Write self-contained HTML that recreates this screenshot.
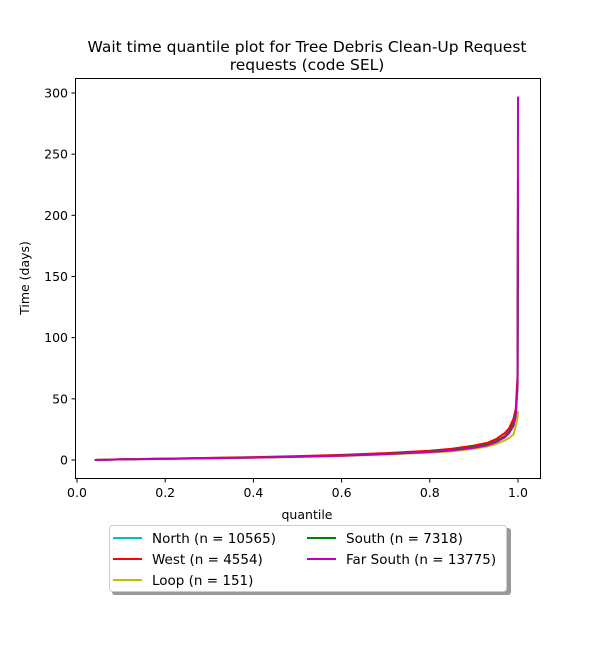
<!DOCTYPE html>
<html><head><meta charset="utf-8"><style>
body{margin:0;background:#fff;font-family:"Liberation Sans","DejaVu Sans",sans-serif}
</style></head><body>
<svg id="c" width="600" height="650" xmlns="http://www.w3.org/2000/svg" font-family="DejaVu Sans, Liberation Sans, sans-serif">
<text x="307" y="52" text-anchor="middle" font-size="15.5">Wait time quantile plot for Tree Debris Clean-Up Request</text>
<text x="307" y="70" text-anchor="middle" font-size="15.5">requests (code SEL)</text>
<g id="plot"></g>
<rect x="75.5" y="78.5" width="465" height="400" fill="none" stroke="#000" stroke-width="1"/>
<text x="307" y="519" text-anchor="middle" font-size="12.5">quantile</text>
<text x="29" y="278" text-anchor="middle" font-size="12.5" transform="rotate(-90 29 278)">Time (days)</text>
<g>
<rect x="112" y="528" width="399" height="67" rx="3" fill="#999"/>
<rect x="109.5" y="525.5" width="397" height="66" rx="3" fill="#fff" stroke="#ccc"/>
<g id="leg"></g>
</g>
</svg>
<script>
const quantiles=[0.04,0.1,0.2,0.3,0.4,0.5,0.6,0.7,0.8,0.85,0.9,0.93,0.95,0.97,0.98,0.99,0.995,0.999,1.0];
const names=["North (n = 10565)","West (n = 4554)","Loop (n = 151)","South (n = 7318)","Far South (n = 13775)"];
const colors=["#00bfbf","#ff0000","#bfbf00","#008000","#bf00bf"];
const northVals=[0,0.5,1,1.5,2,2.8,3.7,5,6.8,8.2,10.5,12.5,15,19,23,30,38,60,200];
const westVals=[0,0.6,1.1,1.7,2.3,3.2,4.2,5.6,7.6,9.2,11.8,14,17,22,26,34,42,70,230];
const loopVals=[0,0.4,0.9,1.3,1.8,2.5,3.3,4.5,6,7.2,9.2,11,13,16,18,21,28,35,40];
const southVals=[0,0.5,1,1.5,2,2.8,3.7,5,6.8,8.2,10.6,12.7,15.2,19.5,23.5,30,38,62,210];
const farSouthVals=[0,0.5,0.9,1.4,1.9,2.7,3.5,4.8,6.5,7.8,10,12,14.5,18.5,22,28,36,60,297];
const series=[northVals,westVals,loopVals,southVals,farSouthVals];
const xTicks=[0.0,0.2,0.4,0.6,0.8,1.0];
const yTicks=[0,50,100,150,200,250,300];
const X=v=>77+v*441, Y=v=>460-v*367/300;
const NS="http://www.w3.org/2000/svg";
const plot=document.getElementById('plot');
function el(t,a,p){const e=document.createElementNS(NS,t);for(const k in a)e.setAttribute(k,a[k]);p.appendChild(e);return e;}
xTicks.forEach(t=>{
 const l=el('line',{x1:X(t),x2:X(t),y1:478.5,y2:482.5,stroke:'#000'},plot);
 
 
 const tx=el('text',{x:X(t),y:497,'text-anchor':'middle','font-size':12.5},plot);
 tx.textContent=t.toFixed(1);
 
 
});
yTicks.forEach(t=>{
 const l=el('line',{x1:71.5,x2:75.5,y1:Y(t),y2:Y(t),stroke:'#000'},plot);
 
 
 const tx=el('text',{x:68,y:Y(t)+4.5,'text-anchor':'end','font-size':12.5},plot);
 tx.textContent=t;
 
 
});
series.forEach((s,i)=>{
 const p=el('polyline',{points:s.map((v,j)=>X(quantiles[j])+','+Y(v)).join(' '),fill:'none',stroke:colors[i],'stroke-width':2},plot);
 
 
});
const leg=document.getElementById('leg');
const pos=[[113,538],[113,559],[113,580],[307,538],[307,559]];
names.forEach((n,i)=>{
 const [x,y]=pos[i];
 const l=el('line',{x1:x,x2:x+29,y1:y,y2:y,stroke:colors[i],'stroke-width':2},leg);
 
 
 const t=el('text',{x:x+39,y:y+5,'font-size':13.5},leg);
 t.textContent=n;
 
 
});
</script>
</body></html>
